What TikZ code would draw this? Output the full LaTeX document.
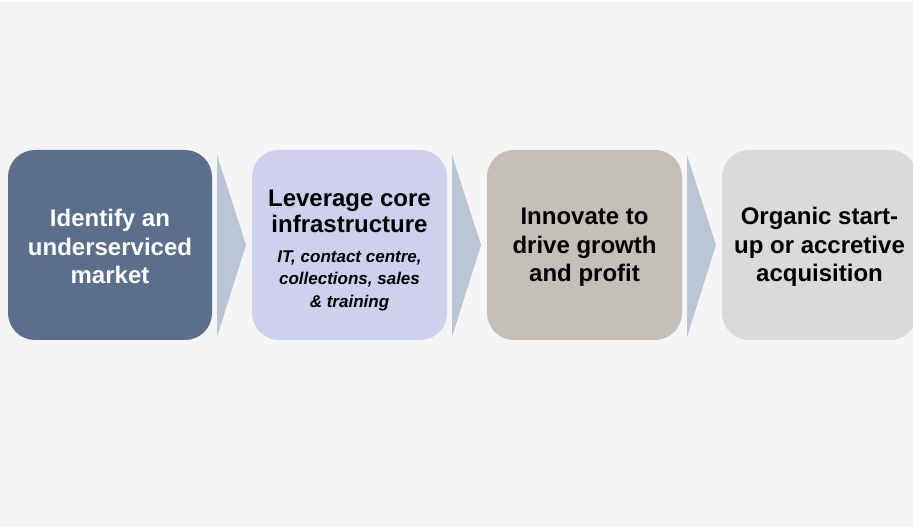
\documentclass[tikz,border=0pt]{standalone}
\usepackage{fontspec}
\setmainfont{Liberation Sans}
\usepackage{tikz}
\usetikzlibrary{positioning,calc}

\definecolor{pagebg}{HTML}{F5F5F5}
\definecolor{stepone}{HTML}{5B6E8A}
\definecolor{steptwo}{HTML}{CFCFEE}
\definecolor{stepthree}{HTML}{C4BFB9}
\definecolor{stepfour}{HTML}{DADADA}
\definecolor{chevfill}{HTML}{BAC5D5}

\begin{document}
\begin{tikzpicture}[x=1pt,y=1pt,node distance=40pt,
    stage/.style={rounded corners=27pt,minimum height=190pt,minimum width=195pt,
      align=center,inner sep=0pt,outer sep=0pt,
      font=\bfseries\fontsize{24}{28.5}\selectfont}]
  \fill[white] (0,0) rectangle (913,527);
  \fill[pagebg] (0,0) rectangle (913,525);
  \useasboundingbox (0,0) rectangle (913,527);
  \clip (0,0) rectangle (913,527);
  \node (identify) [stage,fill=stepone,text=white,minimum width=204pt,anchor=west]
    at (8,282) {\rule{0pt}{21pt}Identify an\\underserviced\\market};
  \node (leverage) [stage,fill=steptwo,right=of identify,
      font=\bfseries\fontsize{24}{26.5}\selectfont]
    {\rule{0pt}{27pt}Leverage core\\infrastructure\\[3pt]
     {\itshape\fontsize{17}{20}\selectfont IT, contact centre,}\\[-4pt]
     {\itshape\fontsize{17}{20}\selectfont collections, sales}\\[-4pt]
     {\itshape\fontsize{17}{20}\selectfont \& training}};
  \node (innovate) [stage,fill=stepthree,right=of leverage]
    {\rule{0pt}{21pt}Innovate to\\drive growth\\and profit};
  \node (organic) [stage,fill=stepfour,right=of innovate]
    {\rule{0pt}{21pt}Organic start-\\up or accretive\\acquisition};
  % chevrons between the stages
  \fill[chevfill] ($(identify.north east)+(5,-5)$) -- ($(leverage.west)+(-6,0)$)
    -- ($(identify.south east)+(5,3)$) -- cycle;
  \fill[chevfill] ($(leverage.north east)+(5,-5)$) -- ($(innovate.west)+(-6,0)$)
    -- ($(leverage.south east)+(5,3)$) -- cycle;
  \fill[chevfill] ($(innovate.north east)+(5,-5)$) -- ($(organic.west)+(-6,0)$)
    -- ($(innovate.south east)+(5,3)$) -- cycle;
\end{tikzpicture}
\end{document}
